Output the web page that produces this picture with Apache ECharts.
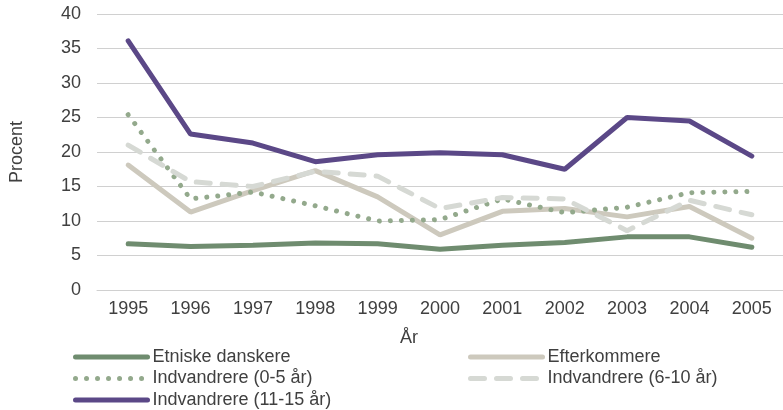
<!DOCTYPE html>
<html>
<head>
<meta charset="utf-8">
<script src="https://cdn.jsdelivr.net/npm/echarts@6/dist/echarts.min.js"></script>
<style>
  html, body { margin: 0; padding: 0; background: #fff; }
  #main { width: 783px; height: 410px; }
</style>
</head>
<body>
<div id="main"></div>
<script>
const years = ["1995", "1996", "1997", "1998", "1999", "2000", "2001", "2002", "2003", "2004", "2005"];
const etniske = [6.7, 6.3, 6.5, 6.8, 6.7, 5.9, 6.5, 6.9, 7.7, 7.7, 6.2];
const efterkommere = [18.1, 11.3, 14.4, 17.3, 13.5, 8.0, 11.4, 11.8, 10.6, 12.1, 7.5];
const indv05 = [25.4, 13.2, 14.2, 12.2, 10.0, 10.2, 13.2, 11.2, 12.0, 14.1, 14.3];
const indv610 = [21.0, 15.7, 15.0, 17.2, 16.5, 11.8, 13.4, 13.2, 8.6, 13.0, 10.9];
const indv1115 = [36.1, 22.6, 21.3, 18.6, 19.6, 19.9, 19.6, 17.5, 25.0, 24.5, 19.4];

const chart = echarts.init(document.getElementById("main"));
const font = "'Liberation Sans', Arial, sans-serif";
const textColor = "#404040";

function line(name, data, color, width, type, cap) {
  return {
    name: name,
    type: "line",
    data: data,
    symbol: "none",
    color: color,
    lineStyle: { color: color, width: width, type: type, cap: cap || "round" },
  };
}

const legendBase = {
  orient: "vertical",
  top: 348,
  height: 80,
  padding: 0,
  itemWidth: 72,
  itemHeight: 4,
  itemGap: 3.5,
  itemStyle: { opacity: 0 },
  lineStyle: { width: 5 },
  textStyle: { fontFamily: font, fontSize: 18, color: textColor },
};

const option = {
  animation: false,
  grid: { left: 96, right: -4, top: 14, bottom: 120 },
  legend: [
    Object.assign({}, legendBase, {
      left: 73,
      data: ["Etniske danskere", "Indvandrere (0-5 år)", "Indvandrere (11-15 år)"],
    }),
    Object.assign({}, legendBase, {
      left: 468,
      data: ["Efterkommere", "Indvandrere (6-10 år)"],
    }),
  ],
  xAxis: {
    type: "category",
    data: years,
    boundaryGap: true,
    name: "År",
    nameLocation: "middle",
    nameGap: 39,
    nameTextStyle: { fontFamily: font, fontSize: 18, color: textColor, padding: [0, 62, 0, 0] },
    axisLine: { lineStyle: { color: "#d0d0d0" } },
    axisTick: { show: false },
    axisLabel: { fontFamily: font, fontSize: 18, color: textColor, margin: 10 },
  },
  yAxis: {
    type: "value",
    min: 0,
    max: 40,
    interval: 5,
    name: "Procent",
    nameLocation: "middle",
    nameGap: 71,
    nameRotate: 90,
    nameTextStyle: { fontFamily: font, fontSize: 18, color: textColor },
    axisLine: { show: false },
    axisTick: { show: false },
    axisLabel: { fontFamily: font, fontSize: 18, color: textColor, margin: 16 },
    splitLine: { lineStyle: { color: "#d0d0d0", width: 1 } },
  },
  series: [
    line("Etniske danskere", etniske, "#6f8c6f", 5),
    line("Efterkommere", efterkommere, "#cdc9bd", 5),
    line("Indvandrere (0-5 år)", indv05, "#93a98c", 5, [0.01, 11], "round"),
    line("Indvandrere (6-10 år)", indv610, "#d6d9d4", 5, [14, 12], "round"),
    line("Indvandrere (11-15 år)", indv1115, "#5b4887", 5),
  ],
};

chart.setOption(option);
</script>
</body>
</html>
